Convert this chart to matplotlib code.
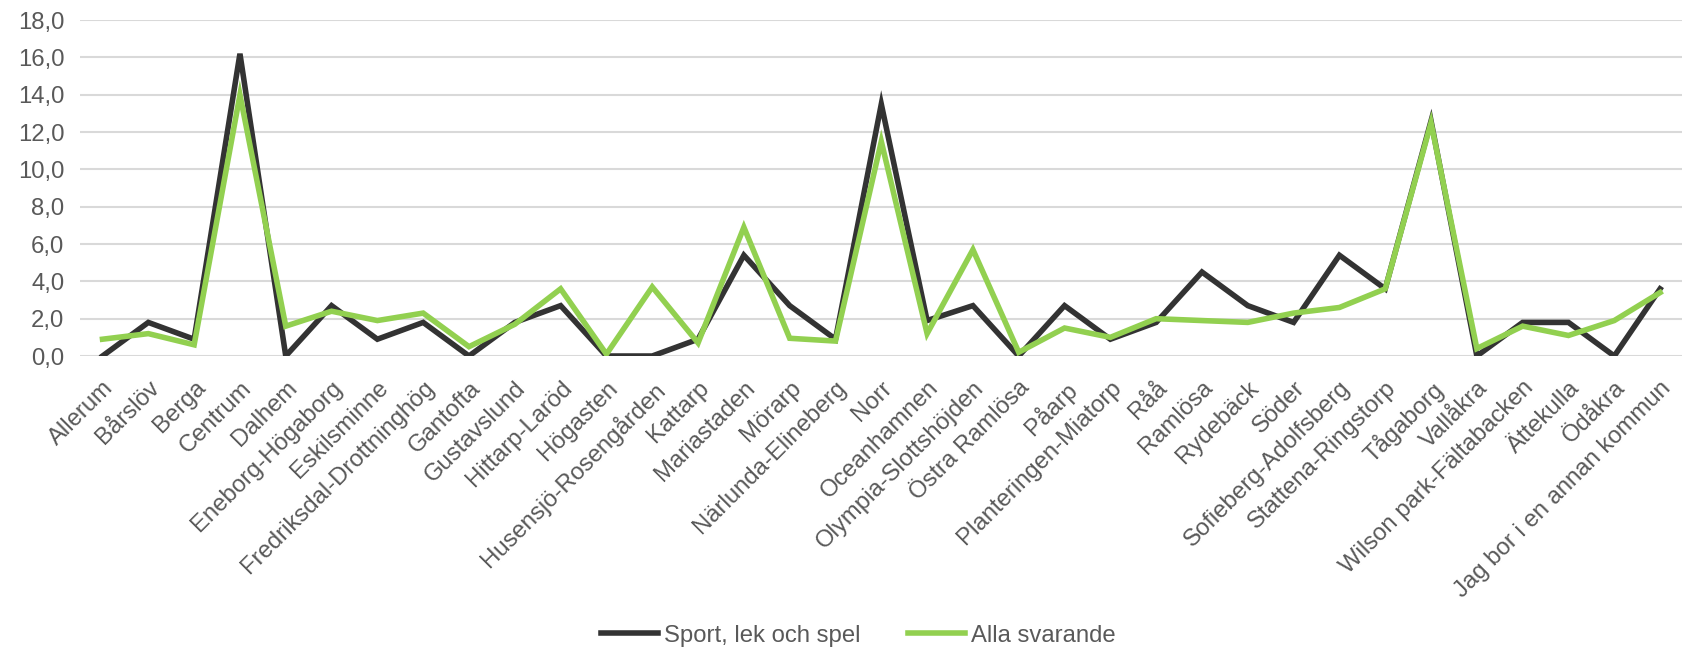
import matplotlib
matplotlib.use("Agg")
import matplotlib.pyplot as plt

plt.rcParams['font.family'] = ['Liberation Sans', 'DejaVu Sans']

omraden = ["Allerum", "Bårslöv", "Berga", "Centrum", "Dalhem", "Eneborg-Högaborg",
           "Eskilsminne", "Fredriksdal-Drottninghög", "Gantofta", "Gustavslund",
           "Hittarp-Laröd", "Högasten", "Husensjö-Rosengården", "Kattarp",
           "Mariastaden", "Mörarp", "Närlunda-Elineberg", "Norr", "Oceanhamnen",
           "Olympia-Slottshöjden", "Östra Ramlösa", "Påarp", "Planteringen-Miatorp",
           "Råå", "Ramlösa", "Rydebäck", "Söder", "Sofieberg-Adolfsberg",
           "Stattena-Ringstorp", "Tågaborg", "Vallåkra", "Wilson park-Fältabacken",
           "Ättekulla", "Ödåkra", "Jag bor i en annan kommun"]

sport = [0.0, 1.8, 0.9, 16.2, 0.0, 2.7, 0.9, 1.8, 0.0, 1.8,
         2.7, 0.0, 0.0, 0.9, 5.4, 2.7, 0.9, 13.5, 1.9, 2.7,
         0.0, 2.7, 0.9, 1.8, 4.5, 2.7, 1.8, 5.4, 3.6, 12.6,
         0.0, 1.8, 1.8, 0.0, 3.6]

alla = [0.9, 1.2, 0.6, 14.0, 1.6, 2.4, 1.9, 2.3, 0.5, 1.7,
        3.6, 0.1, 3.7, 0.7, 6.9, 0.95, 0.8, 11.5, 1.2, 5.7,
        0.2, 1.5, 1.0, 2.0, 1.9, 1.8, 2.3, 2.6, 3.6, 12.5,
        0.4, 1.6, 1.1, 1.9, 3.4]

yticks = [0, 2, 4, 6, 8, 10, 12, 14, 16, 18]

fig = plt.figure(figsize=(16.83, 6.5), dpi=100)
ax = fig.add_axes([0.0473, 0.4523, 0.9527, 0.5167])

x = range(len(omraden))
ax.plot(x, sport, color='#333333', lw=4, solid_joinstyle='miter', label='Sport, lek och spel', zorder=3)
ax.plot(x, alla, color='#92D050', lw=4, solid_joinstyle='miter', label='Alla svarande', zorder=4)

ax.set_xlim(-0.5, len(omraden) - 0.5)
ax.set_ylim(0, 18)
ax.set_yticks(yticks)
ax.set_yticklabels([f"{v:.1f}".replace('.', ',') for v in yticks])
ax.grid(axis='y', color='#D9D9D9', lw=1.5)
ax.set_axisbelow(True)
for s in ax.spines.values():
    s.set_visible(False)
ax.tick_params(axis='both', length=0, labelsize=17.2, labelcolor='#595959')
ax.tick_params(axis='y', pad=11)
ax.tick_params(axis='x', pad=15)
ax.set_xticks(list(x))
ax.set_xticklabels(omraden, rotation=45, ha='right', rotation_mode='anchor')

fig.legend(loc='center', bbox_to_anchor=(0.51, 0.022), ncol=2, frameon=False,
           fontsize=17.2, labelcolor='#595959', handlelength=2.4, handletextpad=0.25,
           columnspacing=2.0)

fig.savefig('out.png', dpi=100)
